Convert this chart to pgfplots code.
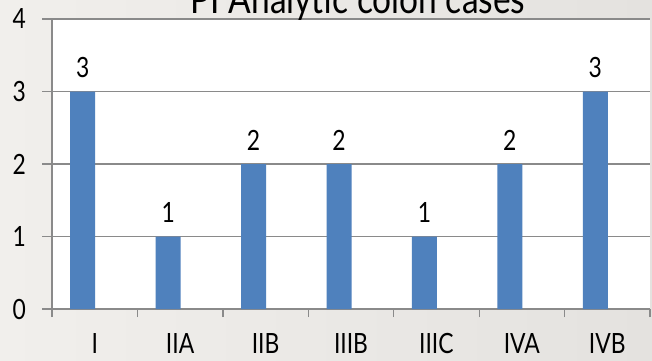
\documentclass[border=0pt]{standalone}
\usepackage{pgfplots}
\pgfplotsset{compat=1.18}
\usepackage{fontspec}
\setmainfont[FakeStretch=0.82]{Lato}
\definecolor{barblue}{HTML}{4F81BD}
\definecolor{gridgray}{HTML}{8A8A8A}
\definecolor{bgleft}{HTML}{F1EFEC}
\definecolor{bgright}{HTML}{E4E2DF}

\begin{document}
\begin{tikzpicture}[x=1bp,y=1bp]
\begin{scope}
\clip (0,0) rectangle (652,360);
\shade[left color=bgleft, right color=bgright] (0,0) rectangle (652,360);
\begin{axis}[
  at={(52bp,51bp)}, anchor=south west,
  scale only axis, width=598bp, height=290bp,
  xmin=-0.5, xmax=6.5, ymin=0, ymax=4,
  axis background/.style={fill=white},
  axis x line=bottom, axis y line=left,
  axis line style={gridgray, line width=1.3bp, -},
  ytick={0,1,2,3,4},
  ymajorgrids,
  major grid style={gridgray, line width=1.3bp},
  xtick={0,...,6},
  xticklabels={I, IIA, IIB, IIIB, IIIC, IVA, IVB},
  minor xtick={-0.5,0.5,...,6.5},
  tick align=outside,
  major tick style={gridgray, line width=1.3bp},
  minor tick style={gridgray, line width=1.3bp},
  every major x tick/.append style={draw=none},
  major tick length=10bp,
  minor tick length=8bp,
  ticklabel style={font=\fontsize{28}{32}\selectfont, text=black},
  yticklabel style={anchor=east, inner sep=0pt, xshift=-16bp},
  xticklabel style={anchor=center, inner sep=0pt, yshift=-25bp},
  /pgf/number format/assume math mode=true,
  ybar, bar width=25bp, bar shift=-12bp,
  nodes near coords,
  every node near coord/.append style={font=\fontsize{28}{32}\selectfont, text=black, anchor=center, yshift=24bp},
]
\addplot[fill=barblue, draw=none] coordinates {
  (0,3) (1,1) (2,2) (3,2) (4,1) (5,2) (6,3)
};
\end{axis}
\node[anchor=base, font=\fontsize{41}{46}\selectfont] at (358,347) {PI Analytic colon cases};
\end{scope}
\pgfresetboundingbox
\path[use as bounding box] (0,0) rectangle (652,360);
\end{tikzpicture}
\end{document}
